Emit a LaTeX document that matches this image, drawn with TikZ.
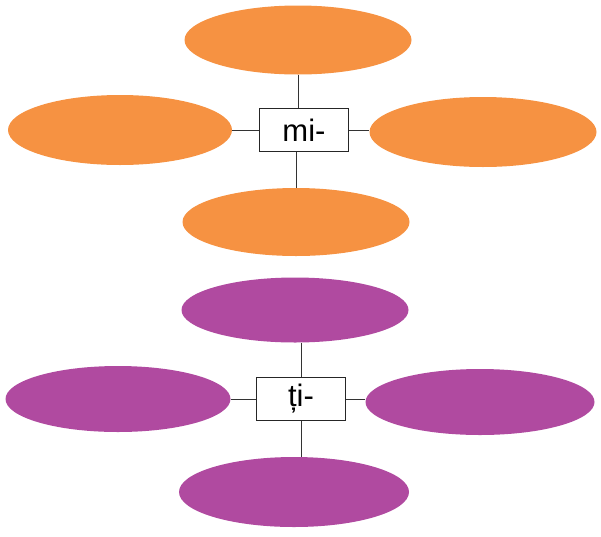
\documentclass[tikz,border=0pt]{standalone}
\usepackage{fontspec}
\setmainfont{Liberation Sans}
\usetikzlibrary{shapes.geometric}
\definecolor{orng}{RGB}{246,146,66}
\definecolor{purp}{RGB}{176,74,160}
\tikzset{
  oval/.style={ellipse, draw=none, inner sep=0pt},
  ooval/.style={oval, fill=orng},
  poval/.style={oval, fill=purp},
  center/.style={draw=black!85, line width=1pt, fill=white, minimum width=89pt, minimum height=43pt, inner sep=0pt, font=\fontsize{31}{31}\selectfont},
  link/.style={draw=black!80, line width=0.9pt}
}
\begin{document}
\begin{tikzpicture}[x=1pt,y=-1pt]
\useasboundingbox (0,0) rectangle (601,536);
% orange group
\node[center] (mi) at (304,130) {mi-};
\node[ooval, minimum width=227pt, minimum height=69pt] (mt) at (298,40) {};
\node[ooval, minimum width=224pt, minimum height=70pt] (ml) at (120,130) {};
\node[ooval, minimum width=227pt, minimum height=70pt] (mr) at (483,132) {};
\node[ooval, minimum width=227pt, minimum height=68pt] (mb) at (296,222) {};
\draw[link] (mt.south) -- (mt.south |- mi.north);
\draw[link] (mi.south -| mb.north) -- (mb.north);
\draw[link] (ml.east) -- (mi.west |- ml.east);
\draw[link] (mi.east) -- (mr.west |- mi.east);
% purple group
\node[center] (ti) at (301,399) {ți-};
\node[poval, minimum width=227pt, minimum height=65pt] (pt) at (295,310) {};
\node[poval, minimum width=225pt, minimum height=66pt] (pl) at (118,399) {};
\node[poval, minimum width=229pt, minimum height=66pt] (pr) at (480,402) {};
\node[poval, minimum width=230pt, minimum height=70pt] (pb) at (294,492) {};
\draw[link] (pt.south -| ti.north) -- (ti.north);
\draw[link] (ti.south) -- (ti.south |- pb.north);
\draw[link] (pl.east) -- (ti.west |- pl.east);
\draw[link] (ti.east) -- (pr.west |- ti.east);
\end{tikzpicture}
\end{document}
